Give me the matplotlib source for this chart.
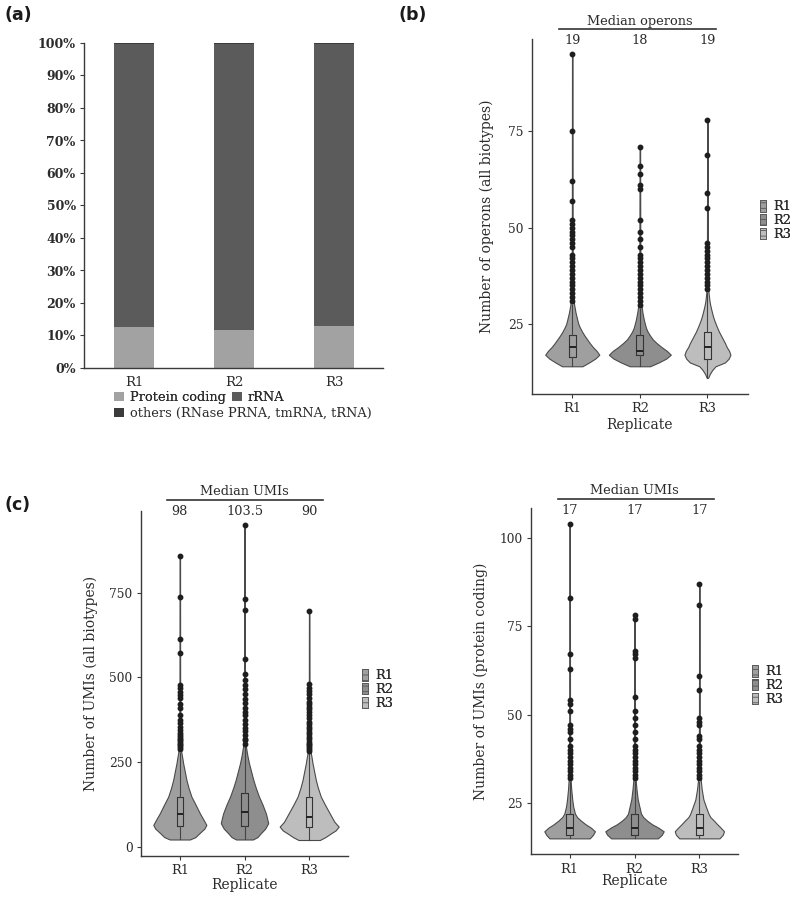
import matplotlib
matplotlib.use('Agg')
import matplotlib.pyplot as plt
from matplotlib.patches import Patch
import matplotlib.transforms as mtransforms

plt.rcParams['font.family'] = ['DejaVu Serif', 'DejaVu Sans']
plt.rcParams['hatch.linewidth'] = 0.6

W, H = 800, 897

# ---------------- data ----------------
replicates = ['R1', 'R2', 'R3']

# panel (a): biotype composition (%)
pct_protein = [12.6, 11.7, 12.9]
pct_rrna = [87.1, 88.0, 86.8]
pct_other = [0.3, 0.3, 0.3]
pct_ticks = [0, 10, 20, 30, 40, 50, 60, 70, 80, 90, 100]
biotype_names = ['Protein coding', 'rRNA', 'others (RNase PRNA, tmRNA, tRNA)']

# panel (b): operons (all biotypes) -- violin outline (value, half-width)
ops_R1_y = [14, 15, 16, 17, 18, 19, 20, 21, 22, 23, 24, 25, 26, 28, 30, 32, 35, 45, 95]
ops_R1_w = [0.15, 0.25, 0.34, 0.40, 0.36, 0.305, 0.26, 0.22, 0.18, 0.145, 0.115, 0.09, 0.075, 0.048, 0.028, 0.015, 0.010, 0.006, 0.004]
ops_R2_y = [14, 15, 16, 17, 18, 19, 20, 21, 22, 23, 24, 26, 28, 30, 32, 40, 71]
ops_R2_w = [0.15, 0.28, 0.39, 0.458, 0.40, 0.32, 0.25, 0.19, 0.15, 0.115, 0.09, 0.06, 0.038, 0.022, 0.013, 0.007, 0.004]
ops_R3_y = [11, 12, 13, 14, 15, 16, 17, 18, 19, 20, 21, 22, 23, 24, 25, 26, 27, 28, 29, 30, 31, 33, 36, 45, 78]
ops_R3_w = [0.01, 0.035, 0.07, 0.12, 0.26, 0.315, 0.34, 0.32, 0.285, 0.26, 0.23, 0.20, 0.17, 0.145, 0.122, 0.10, 0.082, 0.067, 0.053, 0.04, 0.03, 0.017, 0.010, 0.007, 0.004]
# box stats: whisker low, Q1, median, Q3, whisker high
ops_R1_box = [14, 16.5, 19, 22, 30]
ops_R2_box = [14, 17, 18, 22, 29]
ops_R3_box = [11, 16, 19, 23, 33]
ops_R1_out = [31, 32, 33, 34, 35, 36, 37, 38, 39, 40, 41, 42, 43, 45, 46, 47, 48, 49, 50, 51, 52, 57, 62, 75, 95]
ops_R2_out = [30, 31, 32, 33, 34, 35, 36, 37, 38, 39, 40, 41, 42, 43, 45, 47, 49, 52, 60, 61, 64, 66, 71]
ops_R3_out = [34, 35, 36, 37, 38, 39, 40, 41, 42, 43, 44, 45, 46, 55, 59, 69, 78]
ops_median_labels = ['19', '18', '19']
ops_yticks = [25, 50, 75]

# panel (c): UMIs (all biotypes)
umi_R1_y = [23, 30, 41, 55, 66, 80, 100, 125, 149, 175, 198, 225, 247, 265, 277, 290, 350, 500, 859]
umi_R1_w = [0.155, 0.24, 0.30, 0.38, 0.41, 0.37, 0.31, 0.245, 0.18, 0.135, 0.103, 0.075, 0.052, 0.037, 0.026, 0.015, 0.008, 0.005, 0.004]
umi_R2_y = [23, 30, 41, 55, 71, 85, 100, 125, 149, 175, 198, 225, 247, 270, 287, 305, 350, 500, 949]
umi_R2_w = [0.13, 0.20, 0.25, 0.32, 0.366, 0.35, 0.33, 0.28, 0.224, 0.175, 0.137, 0.10, 0.07, 0.045, 0.03, 0.017, 0.009, 0.005, 0.004]
umi_R3_y = [21.5, 30, 39, 50, 61, 75, 100, 125, 149, 175, 198, 225, 247, 265, 277, 290, 350, 500, 696]
umi_R3_w = [0.165, 0.25, 0.32, 0.41, 0.456, 0.39, 0.317, 0.245, 0.18, 0.135, 0.103, 0.075, 0.052, 0.037, 0.026, 0.015, 0.008, 0.005, 0.004]
umi_R1_box = [23, 63, 98, 149, 278]
umi_R2_box = [23, 63, 103.5, 159, 300]
umi_R3_box = [21.5, 59, 90, 147, 279]
umi_R1_out = [290, 295, 300, 305, 310, 315, 320, 325, 330, 336, 345, 355, 365, 375, 390, 410, 422, 441, 449, 458, 468, 478, 571, 613, 738, 859]
umi_R2_out = [305, 315, 320, 330, 341, 350, 362, 375, 390, 399, 409, 425, 437, 451, 466, 478, 492, 511, 554, 700, 730, 949]
umi_R3_out = [285, 290, 295, 300, 305, 310, 318, 325, 333, 340, 348, 355, 362, 370, 380, 390, 399, 407, 414, 422, 429, 440, 452, 461, 470, 481, 696]
umi_median_labels = ['98', '103.5', '90']
umi_yticks = [0, 250, 500, 750]

# panel (d): UMIs (protein coding)
pc_R1_y = [15, 16, 17, 18, 19, 20, 21, 22, 24, 26, 29, 32, 35, 50, 104]
pc_R1_w = [0.31, 0.36, 0.39, 0.33, 0.245, 0.175, 0.115, 0.082, 0.055, 0.04, 0.024, 0.014, 0.009, 0.006, 0.004]
pc_R2_y = [15, 16, 17, 18, 19, 20, 21, 22, 24, 26, 29, 32, 35, 50, 78]
pc_R2_w = [0.36, 0.42, 0.45, 0.37, 0.27, 0.195, 0.135, 0.10, 0.075, 0.05, 0.03, 0.015, 0.01, 0.006, 0.004]
pc_R3_y = [15, 16, 17, 18, 19, 20, 21, 22, 24, 26, 29, 32, 35, 50, 87]
pc_R3_w = [0.31, 0.36, 0.38, 0.33, 0.275, 0.225, 0.17, 0.14, 0.10, 0.062, 0.035, 0.018, 0.01, 0.006, 0.004]
pc_R1_box = [15, 16, 18, 22, 31]
pc_R2_box = [15, 16, 18, 22, 31]
pc_R3_box = [15, 16, 18, 22, 31]
pc_R1_out = [32, 33, 34, 35, 36, 37, 38, 39, 40, 41, 43, 45, 46, 47, 51, 53, 54, 63, 67, 83, 104]
pc_R2_out = [32, 33, 34, 35, 36, 37, 38, 39, 40, 41, 43, 45, 47, 49, 51, 55, 66, 67, 68, 77, 78]
pc_R3_out = [32, 33, 34, 35, 36, 37, 38, 39, 40, 41, 43, 44, 47, 48, 49, 57, 61, 81, 87]
pc_median_labels = ['17', '17', '17']
pc_yticks = [25, 50, 75, 100]

# ---------------- style ----------------
violin_colors = ['#9f9f9f', '#8e8e8e', '#bdbdbd']
bar_colors = ['#a2a2a2', '#5b5b5b', '#3b3b3b']
ink = '#2b2b2b'
axis_col = '#3a3a3a'


def fx(px):
    return px / W


def fy(py):
    return 1 - py / H


def add_axes_px(fig, left, top, right, bottom):
    return fig.add_axes([fx(left), fy(bottom), (right - left) / W, (bottom - top) / H])


def style_axes(ax, fs=8.8):
    for s in ['top', 'right']:
        ax.spines[s].set_visible(False)
    for s in ['left', 'bottom']:
        ax.spines[s].set_color(axis_col)
        ax.spines[s].set_linewidth(1.0)
    ax.tick_params(axis='both', colors=axis_col, labelcolor=ink, labelsize=fs,
                   length=3, width=0.8, pad=3)


fig = plt.figure(figsize=(W / 100, H / 100), dpi=100)
fig.patch.set_facecolor('white')

# ---------------- panel (a) ----------------
axa = add_axes_px(fig, 84, 43, 383, 368)
style_axes(axa)
xpos = list(range(len(replicates)))
axa.bar(xpos, pct_protein, width=0.4, color=bar_colors[0], label=biotype_names[0])
bottom2 = [p for p in pct_protein]
axa.bar(xpos, pct_rrna, width=0.4, bottom=bottom2, color=bar_colors[1], label=biotype_names[1])
bottom3 = [p + r for p, r in zip(pct_protein, pct_rrna)]
axa.bar(xpos, pct_other, width=0.4, bottom=bottom3, color=bar_colors[2], label=biotype_names[2])
axa.set_xlim(-0.505, 2.49)
axa.set_ylim(0, 100)
axa.set_yticks(pct_ticks)
axa.set_yticklabels([f'{t}%' for t in pct_ticks], fontweight='bold', fontsize=9)
axa.set_xticks(xpos)
axa.set_xticklabels(replicates, fontsize=9.5)
axa.tick_params(axis='x', length=0, pad=6)

h_pc = Patch(facecolor=bar_colors[0])
h_rr = Patch(facecolor=bar_colors[1])
h_ot = Patch(facecolor=bar_colors[2])
leg1 = fig.legend([h_pc, h_rr], biotype_names[:2], ncol=2, loc='upper left',
                  bbox_to_anchor=(fx(114), fy(391)), frameon=False, fontsize=9.3,
                  handlelength=0.8, handleheight=0.8, handletextpad=0.4,
                  columnspacing=0.5, borderpad=0, borderaxespad=0)
leg2 = fig.legend([h_ot], biotype_names[2:], loc='upper left',
                  bbox_to_anchor=(fx(114), fy(407)), frameon=False, fontsize=9.3,
                  handlelength=0.8, handleheight=0.8, handletextpad=0.4,
                  borderpad=0, borderaxespad=0)
for lg in (leg1, leg2):
    for t in lg.get_texts():
        t.set_color(ink)
fig.add_artist(leg1)


# ---------------- violin panels ----------------
def violin_panel(box_px, ylim, ys, ws, boxes, outs, yticks, ylabel, title,
                 med_labels, line_x, title_py, line_py, num_py, ylab_x, xlab_y, legend_px):
    left, top, right, bottom = box_px
    ax = add_axes_px(fig, left, top, right, bottom)
    style_axes(ax)
    pos = [0, 1, 2]
    vpstats = []
    for y, w, b in zip(ys, ws, boxes):
        vpstats.append(dict(coords=y, vals=w, mean=b[2], median=b[2], min=y[0], max=y[-1]))
    widths = [2 * max(w) for w in ws]
    parts = ax.violin(vpstats, positions=pos, widths=widths,
                      showmeans=False, showextrema=False, showmedians=False)
    for body, col in zip(parts['bodies'], violin_colors):
        body.set_facecolor(col)
        body.set_edgecolor('#4a4a4a')
        body.set_linewidth(0.8)
        body.set_alpha(1)
        body.set_zorder(1)
    bstats = []
    for b, o in zip(boxes, outs):
        bstats.append(dict(whislo=b[0], q1=b[1], med=b[2], q3=b[3], whishi=b[4], fliers=o))
    ax.bxp(bstats, positions=pos, widths=0.1, showcaps=False, manage_ticks=False,
           patch_artist=False, zorder=2,
           boxprops=dict(color='#333333', linewidth=0.8),
           whiskerprops=dict(color='#444444', linewidth=0.8),
           medianprops=dict(color='#222222', linewidth=1.4),
           flierprops=dict(marker='o', markerfacecolor='#1e1e1e', markeredgecolor='#1e1e1e',
                           markersize=3.2, linestyle='none'))
    ax.set_xlim(-0.6, 2.6)
    ax.set_ylim(*ylim)
    ax.set_yticks(yticks)
    ax.set_xticks(pos)
    ax.set_xticklabels(replicates, fontsize=9.3)
    ax.set_ylabel(ylabel, fontsize=10, color=ink)
    ax.set_xlabel('Replicate', fontsize=10, color=ink)
    ax.yaxis.set_label_coords((ylab_x - left) / (right - left), 0.5)
    ax.xaxis.set_label_coords(0.5, -(xlab_y - bottom) / (bottom - top))
    trans = mtransforms.blended_transform_factory(ax.transData, fig.transFigure)
    ax.text(1, fy(title_py), title, transform=trans, ha='center', va='center',
            fontsize=9.3, color=ink)
    ax.plot(line_x, [fy(line_py)] * 2, transform=trans, color='#333333', lw=1.2,
            clip_on=False, scalex=False, scaley=False)
    for p, lab in zip(pos, med_labels):
        ax.text(p, fy(num_py), lab, transform=trans, ha='center', va='center',
                fontsize=9.3, color=ink)
    handles = [Patch(facecolor=c, edgecolor='#555555', hatch='---', linewidth=0.6)
               for c in violin_colors]
    lg = fig.legend(handles, replicates, loc='upper left',
                    bbox_to_anchor=(fx(legend_px[0]), fy(legend_px[1])), frameon=False,
                    fontsize=9.3, handlelength=0.5, handleheight=1.0, handletextpad=0.5,
                    labelspacing=0.05, borderpad=0, borderaxespad=0)
    for t in lg.get_texts():
        t.set_color(ink)
    fig.add_artist(lg)
    return ax


violin_panel((531.7, 39, 748, 394), (6.8, 99.0),
             [ops_R1_y, ops_R2_y, ops_R3_y], [ops_R1_w, ops_R2_w, ops_R3_w],
             [ops_R1_box, ops_R2_box, ops_R3_box], [ops_R1_out, ops_R2_out, ops_R3_out],
             ops_yticks, 'Number of operons (all biotypes)', 'Median operons',
             ops_median_labels, [-0.2, 2.13], 22, 29, 40, 494, 418, (760, 200))

violin_panel((141, 510.7, 348, 856), (-25.6, 991),
             [umi_R1_y, umi_R2_y, umi_R3_y], [umi_R1_w, umi_R2_w, umi_R3_w],
             [umi_R1_box, umi_R2_box, umi_R3_box], [umi_R1_out, umi_R2_out, umi_R3_out],
             umi_yticks, 'Number of UMIs (all biotypes)', 'Median UMIs',
             umi_median_labels, [-0.2, 2.22], 491, 500, 511, 98, 878, (362, 669))

violin_panel((530.7, 508.3, 738.3, 854.3), (10.5, 108.3),
             [pc_R1_y, pc_R2_y, pc_R3_y], [pc_R1_w, pc_R2_w, pc_R3_w],
             [pc_R1_box, pc_R2_box, pc_R3_box], [pc_R1_out, pc_R2_out, pc_R3_out],
             pc_yticks, 'Number of UMIs (protein coding)', 'Median UMIs',
             pc_median_labels, [-0.18, 2.23], 490, 499, 510, 488.5, 874, (752, 665))

# panel labels
for lab, px, py in [('(a)', 4, 15), ('(b)', 399, 15), ('(c)', 4, 505)]:
    fig.text(fx(px), fy(py), lab, family='DejaVu Sans', fontweight='bold', fontsize=12.5,
             ha='left', va='center', color='#1a1a1a')

fig.savefig('out.png', dpi=100, facecolor='white')
